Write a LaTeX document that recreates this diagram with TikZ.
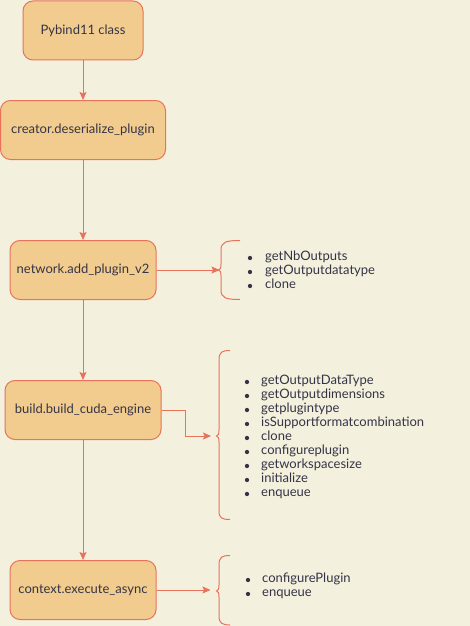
\documentclass[tikz,border=0pt]{standalone}
\usepackage{fontspec}
\setmainfont{Lato}
\usepackage{xcolor}
\usepackage{tikz}
\usetikzlibrary{arrows.meta,positioning}
\definecolor{bgcream}{RGB}{244,240,222}
\definecolor{boxfill}{RGB}{242,204,142}
\definecolor{edgeorange}{RGB}{232,115,90}
\definecolor{ink}{RGB}{52,52,70}
\tikzset{
    stepbox/.style={draw=edgeorange, fill=boxfill, line width=1pt, rounded corners=10pt,
        minimum height=59pt, text=ink, inner sep=0pt},
    flow/.style={draw=edgeorange, line width=1pt, -{Stealth[length=8pt,width=7pt,inset=1.5pt]}},
    brc/.style={draw=edgeorange, line width=1pt},
    dot/.style={circle, fill=ink, inner sep=0pt, minimum size=4.3pt},
    item/.style={anchor=west, text=ink, inner sep=0pt, text height=8.5pt, text depth=2.5pt}
}

\begin{document}
\begin{tikzpicture}[x=1pt, y=-1pt, font=\fontsize{13}{15}\selectfont]
    \fill [bgcream] (0,0) rectangle (470,626);
    \useasboundingbox (0,0) rectangle (470,626);

    % main chain
    \node [stepbox, minimum width=120pt] (pyb) at (83,30.5) {Pybind11 class};
    \node [stepbox, minimum width=165pt] (deser) at (83,130) {creator.deserialize\_plugin};
    \node [stepbox, minimum width=146pt] (addpl) at (83,270) {network.add\_plugin\_v2};
    \node [stepbox, minimum width=156pt] (build) at (83,410) {build.build\_cuda\_engine};
    \node [stepbox, minimum width=146pt] (exec) at (83,590) {context.execute\_async};

    \draw [flow] (pyb) -- (deser);
    \draw [flow] (deser) -- (addpl);
    \draw [flow] (addpl) -- (build);
    \draw [flow] (build) -- (exec);

    % braces
    \draw [brc] (240,240.5) .. controls (226,240.5) and (221,242) .. (221,250) -- (221,264)
        .. controls (221,268) and (220,270) .. (218.5,270) .. controls (220,270) and (221,272) .. (221,276)
        -- (221,290) .. controls (221,298) and (226,299.5) .. (240,299.5);
    \draw [brc] (230,350.5) .. controls (222,350.5) and (219,352) .. (219,360) -- (219,430)
        .. controls (219,434) and (218,436) .. (216.5,436) .. controls (218,436) and (219,438) .. (219,442)
        -- (219,511) .. controls (219,518) and (222,519.5) .. (230,519.5);
    \draw [brc] (230,555.5) .. controls (222,555.5) and (219,557) .. (219,565) -- (219,585)
        .. controls (219,589) and (218,591) .. (216.5,591) .. controls (218,591) and (219,593) .. (219,597)
        -- (219,616) .. controls (219,623) and (222,625) .. (230,625);

    \coordinate (tipA) at (219.5,270);
    \coordinate (tipB) at (211,436);
    \coordinate (tipC) at (210.5,590);

    \draw [flow] (addpl) -- (tipA);
    \draw [flow] (build.east) -- ++(24,0) |- (tipB);
    \draw [flow] (exec) -- (tipC);

    % method lists
    \foreach \m [count=\i] in {getNbOutputs,getOutputdatatype,clone} {
        \node [dot] (da\i) at (250,244+14*\i) {};
        \node [item] (ma\i) at (265,243+14*\i) {\m};
    }
    \foreach \m [count=\i] in {getOutputDataType,getOutputdimensions,getplugintype,
        isSupportformatcombination,clone,configureplugin,getworkspacesize,initialize,enqueue} {
        \node [dot] (db\i) at (247,368+14*\i) {};
        \node [item] (mb\i) at (261,367+14*\i) {\m};
    }
    \foreach \m [count=\i] in {configurePlugin,enqueue} {
        \node [dot] (dc\i) at (248,566+14*\i) {};
        \node [item] (mc\i) at (262,565+14*\i) {\m};
    }
\end{tikzpicture}
\end{document}
